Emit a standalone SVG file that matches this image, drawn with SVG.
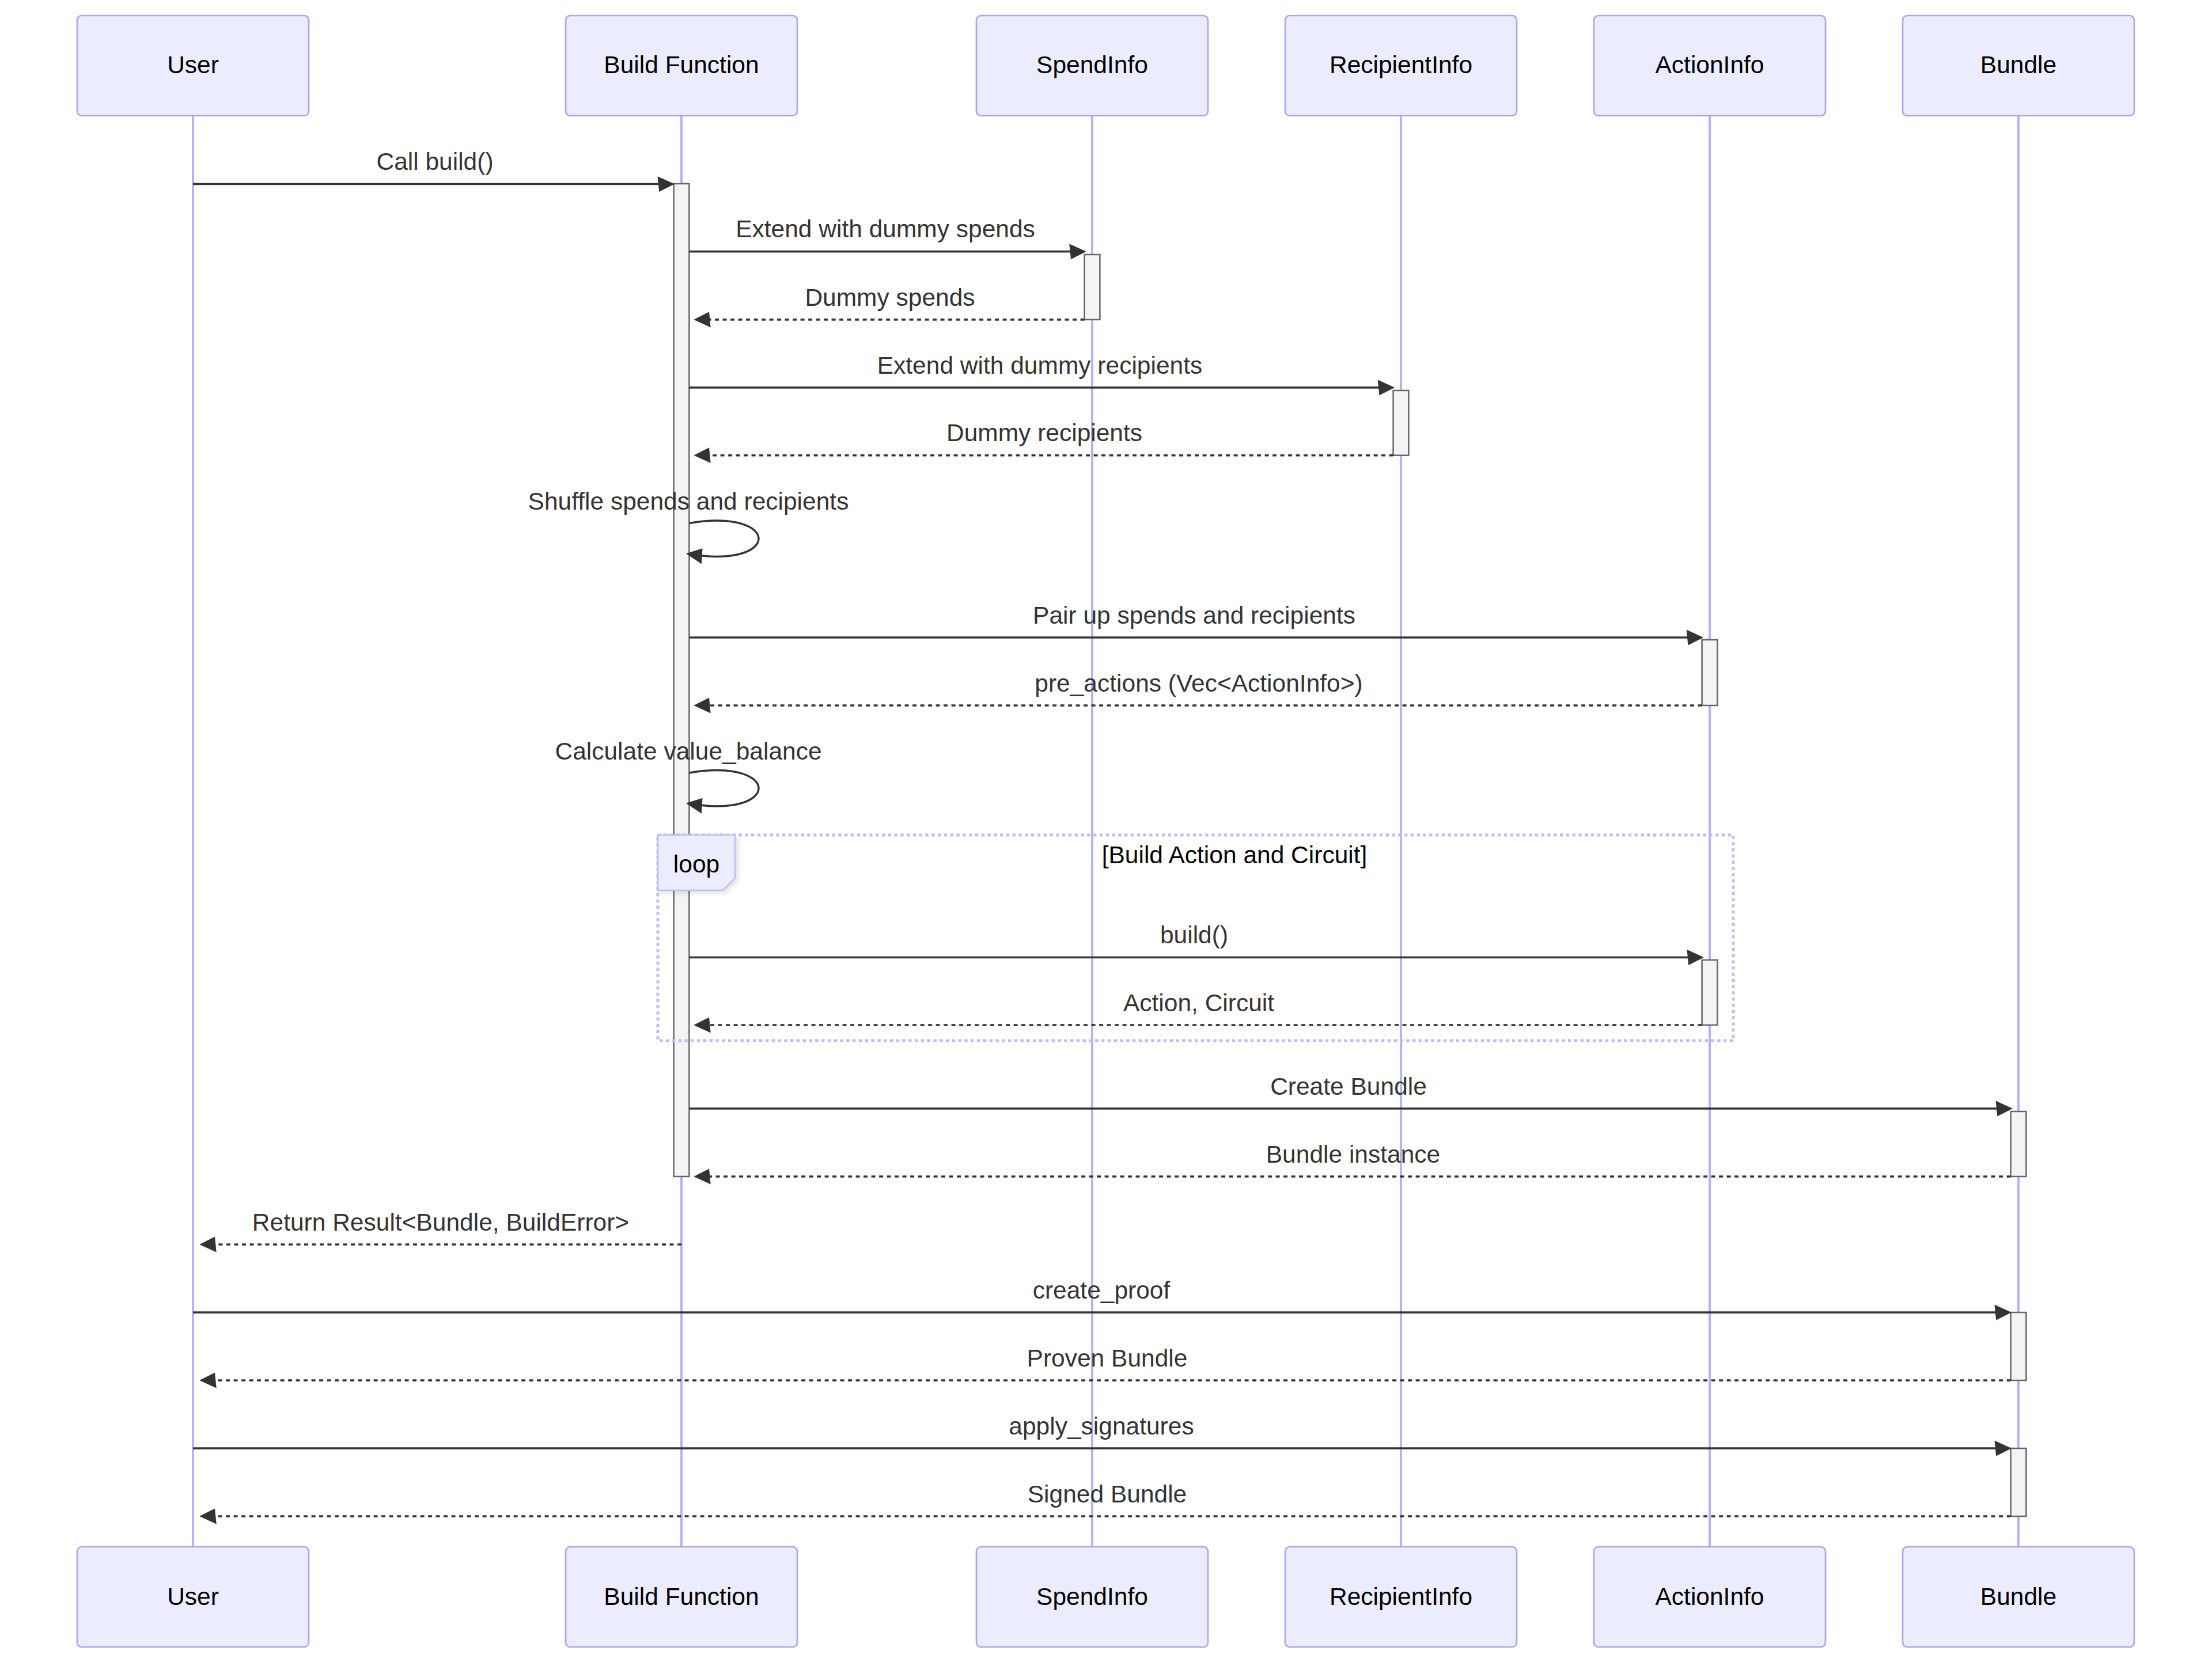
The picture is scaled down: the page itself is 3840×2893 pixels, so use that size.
<svg xmlns="http://www.w3.org/2000/svg" width="3840" height="2893" viewBox="0 0 3840 2893">
<style>
.box{fill:#ECECFF;stroke:#ABA6EE;stroke-width:2.7}
.atext{font-family:"Liberation Sans",Arial,sans-serif;font-size:42.5px;fill:#000;text-anchor:middle}
.lifeline{stroke:#B3B3F7;stroke-width:4}
.act{fill:#F4F4F4;stroke:#666;stroke-width:2.5}
.msg{stroke:#333;stroke-width:3.5;fill:none}
.ret{stroke-dasharray:7 6.5}
.label{font-family:"Liberation Sans",Arial,sans-serif;font-size:42.5px;fill:#333;text-anchor:middle}
.loopline{stroke:#BDBDF8;stroke-width:5;stroke-dasharray:5.4 5.4;fill:none}
.looplabel{fill:#ECECFF;stroke:#BDBDF8;stroke-width:2.7}
.ltext{font-family:"Liberation Sans",Arial,sans-serif;font-size:42.5px;fill:#000;text-anchor:middle}
</style>
<defs>
<marker id="ah" markerUnits="userSpaceOnUse" markerWidth="32" markerHeight="32" refX="21.2" refY="13.4" orient="auto" overflow="visible">
<path d="M -2.7 0 L 26.8 13.4 L 0 26.8 z" fill="#333"/>
</marker>
<filter id="sh" x="-20%" y="-20%" width="150%" height="150%">
<feDropShadow dx="4" dy="4" stdDeviation="4" flood-color="#000" flood-opacity="0.12"/>
</filter>
</defs>
<rect width="3840" height="2893" fill="#fff"/>

<g id="lifelines">
<line class="lifeline" x1="335" y1="201" x2="335" y2="2686"/>
<line class="lifeline" x1="1183" y1="201" x2="1183" y2="2686"/>
<line class="lifeline" x1="1896" y1="201" x2="1896" y2="2686"/>
<line class="lifeline" x1="2432" y1="201" x2="2432" y2="2686"/>
<line class="lifeline" x1="2968" y1="201" x2="2968" y2="2686"/>
<line class="lifeline" x1="3504" y1="201" x2="3504" y2="2686"/>
</g>

<g id="user">
<rect class="box" x="134" y="27" width="402" height="174" rx="8"/>
<text class="atext" x="335" y="127">User</text>
<rect class="box" x="134" y="2686" width="402" height="174" rx="8"/>
<text class="atext" x="335" y="2787">User</text>
</g>
<g id="build-function">
<rect class="box" x="982" y="27" width="402" height="174" rx="8"/>
<text class="atext" x="1183" y="127">Build Function</text>
<rect class="box" x="982" y="2686" width="402" height="174" rx="8"/>
<text class="atext" x="1183" y="2787">Build Function</text>
</g>
<g id="spendinfo">
<rect class="box" x="1695" y="27" width="402" height="174" rx="8"/>
<text class="atext" x="1896" y="127">SpendInfo</text>
<rect class="box" x="1695" y="2686" width="402" height="174" rx="8"/>
<text class="atext" x="1896" y="2787">SpendInfo</text>
</g>
<g id="recipientinfo">
<rect class="box" x="2231" y="27" width="402" height="174" rx="8"/>
<text class="atext" x="2432" y="127">RecipientInfo</text>
<rect class="box" x="2231" y="2686" width="402" height="174" rx="8"/>
<text class="atext" x="2432" y="2787">RecipientInfo</text>
</g>
<g id="actioninfo">
<rect class="box" x="2767" y="27" width="402" height="174" rx="8"/>
<text class="atext" x="2968" y="127">ActionInfo</text>
<rect class="box" x="2767" y="2686" width="402" height="174" rx="8"/>
<text class="atext" x="2968" y="2787">ActionInfo</text>
</g>
<g id="bundle">
<rect class="box" x="3303" y="27" width="402" height="174" rx="8"/>
<text class="atext" x="3504" y="127">Bundle</text>
<rect class="box" x="3303" y="2686" width="402" height="174" rx="8"/>
<text class="atext" x="3504" y="2787">Bundle</text>
</g>

<g id="activations">
<rect class="act" x="1169.6" y="319" width="26.8" height="1724"/>
<rect class="act" x="1882.6" y="442" width="26.8" height="113"/>
<rect class="act" x="2418.6" y="678" width="26.8" height="112.7"/>
<rect class="act" x="2954.6" y="1111" width="26.8" height="114"/>
<rect class="act" x="2954.6" y="1667" width="26.8" height="113"/>
<rect class="act" x="3490.6" y="1930" width="26.8" height="113"/>
<rect class="act" x="3490.6" y="2279" width="26.8" height="118"/>
<rect class="act" x="3490.6" y="2515" width="26.8" height="118"/>
</g>

<g id="loop">
<rect class="loopline" x="1142" y="1450" width="1867" height="357"/>
<polygon class="looplabel" filter="url(#sh)" points="1142,1450 1276,1450 1276,1525 1255,1546 1142,1546"/>
<text class="ltext" x="1209" y="1515">loop</text>
<text class="ltext" x="2143" y="1499">[Build Action and Circuit]</text>
</g>

<g id="connectors">
<line class="msg" x1="335" y1="319.6" x2="1165.4" y2="319.6" marker-end="url(#ah)"/>
<text class="label" x="755" y="295">Call build()</text>

<line class="msg" x1="1196.4" y1="436.8" x2="1880.2" y2="436.8" marker-end="url(#ah)"/>
<text class="label" x="1537" y="412.3">Extend with dummy spends</text>

<line class="msg ret" x1="1882.6" y1="555" x2="1209.8" y2="555" marker-end="url(#ah)"/>
<text class="label" x="1545" y="530.5">Dummy spends</text>

<line class="msg" x1="1196.4" y1="673" x2="2415.6" y2="673" marker-end="url(#ah)"/>
<text class="label" x="1805" y="648.5">Extend with dummy recipients</text>

<line class="msg ret" x1="2418.6" y1="790.7" x2="1209.8" y2="790.7" marker-end="url(#ah)"/>
<text class="label" x="1813" y="766.2">Dummy recipients</text>

<path class="msg" d="M 1196.4,908.5 C 1357.2,881.7 1357.2,988.9 1196.4,962.1" marker-end="url(#ah)"/>
<text class="label" x="1195" y="885">Shuffle spends and recipients</text>

<line class="msg" x1="1196.4" y1="1107" x2="2951.6" y2="1107" marker-end="url(#ah)"/>
<text class="label" x="2073" y="1082.5">Pair up spends and recipients</text>

<line class="msg ret" x1="2954.6" y1="1225" x2="1209.8" y2="1225" marker-end="url(#ah)"/>
<text class="label" x="2081" y="1200.5">pre_actions (Vec&lt;ActionInfo&gt;)</text>

<path class="msg" d="M 1196.4,1342 C 1357.2,1315.2 1357.2,1422.4 1196.4,1395.6" marker-end="url(#ah)"/>
<text class="label" x="1195" y="1319">Calculate value_balance</text>

<line class="msg" x1="1196.4" y1="1662.5" x2="2952.4" y2="1662.5" marker-end="url(#ah)"/>
<text class="label" x="2073" y="1638">build()</text>

<line class="msg ret" x1="2954.6" y1="1780" x2="1209.8" y2="1780" marker-end="url(#ah)"/>
<text class="label" x="2081" y="1755.5">Action, Circuit</text>

<line class="msg" x1="1196.4" y1="1925" x2="3488.4" y2="1925" marker-end="url(#ah)"/>
<text class="label" x="2341" y="1900.5">Create Bundle</text>

<line class="msg ret" x1="3490.6" y1="2043" x2="1209.8" y2="2043" marker-end="url(#ah)"/>
<text class="label" x="2349" y="2018.5">Bundle instance</text>

<line class="msg ret" x1="1183" y1="2161" x2="351.8" y2="2161" marker-end="url(#ah)"/>
<text class="label" x="765" y="2136.5">Return Result&lt;Bundle, BuildError&gt;</text>

<line class="msg" x1="335" y1="2279" x2="3486.4" y2="2279" marker-end="url(#ah)"/>
<text class="label" x="1912" y="2254.5">create_proof</text>

<line class="msg ret" x1="3490.6" y1="2397" x2="351.8" y2="2397" marker-end="url(#ah)"/>
<text class="label" x="1922" y="2372.5">Proven Bundle</text>

<line class="msg" x1="335" y1="2515" x2="3486.4" y2="2515" marker-end="url(#ah)"/>
<text class="label" x="1912" y="2490.5">apply_signatures</text>

<line class="msg ret" x1="3490.6" y1="2633" x2="351.8" y2="2633" marker-end="url(#ah)"/>
<text class="label" x="1922" y="2608.5">Signed Bundle</text>
</g>
</svg>
